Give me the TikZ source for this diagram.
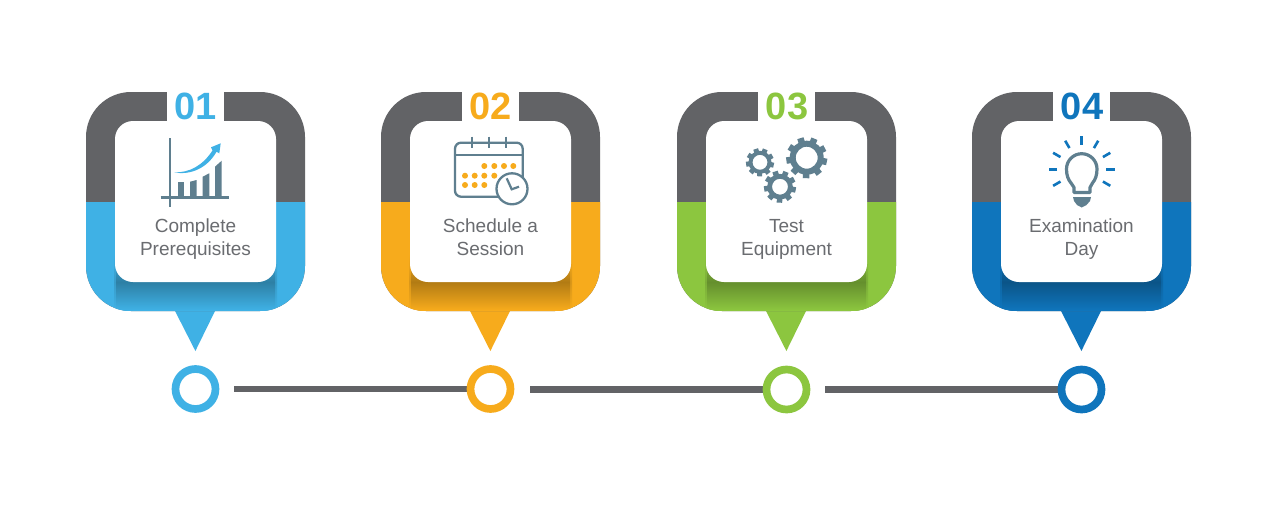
\documentclass[tikz,border=0pt]{standalone}
\usepackage{fontspec}
\setmainfont{Liberation Sans}
\definecolor{P}{HTML}{3FB1E5}
\definecolor{O}{HTML}{F7AB1C}
\definecolor{G}{HTML}{8CC63F}
\definecolor{D}{HTML}{0F75BC}
\definecolor{K}{HTML}{626366}
\definecolor{S}{HTML}{5F7F8F}
\definecolor{L}{HTML}{6A6C70}
\tikzstyle{base}=[x=1pt, y=-1pt, inner sep=0pt, outer sep=0pt]
\tikzstyle{cardbox}=[fill=white, rounded corners=18pt, minimum width=161pt, minimum height=161pt]
\tikzstyle{cardtext}=[text=L, align=center, anchor=north, font=\fontsize{19}{22.5}\selectfont]
\tikzstyle{cardnum}=[font=\fontsize{38}{38}\selectfont\bfseries]
\tikzstyle{ringbox}=[circle, fill=white, line width=7.7pt, minimum size=40pt]
\tikzstyle{railline}=[K, line width=6.5pt]
\newcommand*{\pincard}[5]{
    \begin{scope}[shift={(#2,0)}]
        \fill [#3] (174,309) -- (216,309) -- (195.4,351) -- cycle;
        \fill [K, rounded corners=45pt] (86,92) rectangle (305,311);
        \begin{scope}
            \clip (80,202) rectangle (310,315);
            \fill [#3, rounded corners=45pt] (86,92) rectangle (305,311);
        \end{scope}
        \begin{scope}
            \clip [rounded corners=45pt] (86,92) rectangle (305,311);
            \shade [top color=#3, bottom color=#3, middle color=#3!88!black] (114,254) rectangle (277,310);
            \shade [top color=#3, bottom color=#3, middle color=#3!72!black] (116,254) rectangle (275,310);
        \end{scope}
        \fill [white] (167,88) rectangle (224,125);
        \node [cardbox] (card#1) at (195.5,201.5) {};
        \node [cardnum, text=#3] (num#1) at (196,106.5) {#4};
        \node [cardtext] (label#1) at (195.5,217.2) {\strut #5};
    \end{scope}
}
\newcommand*{\gearicon}[6]{
    \draw [S, line width=#4pt-#3pt] (#1,#2) circle (#3/2+#4/2);
    \foreach \a in {0,40,...,320} {
        \draw [S, line width=#6pt, shift={(#1,#2)}] (\a+12:#4-1) -- (\a+12:#5);
    }
}

\begin{document}
\begin{tikzpicture}[base]
    \useasboundingbox (0,0) rectangle (1280,525);
    \fill [white] (0,0) rectangle (1280,525);
    \pincard{1}{0}{P}{01}{Complete\\Prerequisites}
    \pincard{2}{295}{O}{02}{Schedule a\\Session}
    \pincard{3}{591}{G}{03}{Test\\Equipment}
    \pincard{4}{886}{D}{04}{Examination\\Day}

    \coordinate (rail1) at (234,389);
    \coordinate (rail2) at (530,389.5);
    \coordinate (rail3) at (825,389.5);
    \node [ringbox] (ring1) at (195.5,389) {};
    \node [ringbox] (ring2) at (490.5,389) {};
    \node [ringbox] (ring3) at (786.5,389.5) {};
    \node [ringbox] (ring4) at (1081.5,389.5) {};
    \draw [railline] (rail1) -- (ring2.center);
    \draw [railline] (rail2) -- (ring3.center);
    \draw [railline] (rail3) -- (ring4.center);
    \draw [P, ringbox] (ring1) circle (20);
    \draw [O, ringbox] (ring2) circle (20);
    \draw [G, ringbox] (ring3) circle (20);
    \draw [D, ringbox] (ring4) circle (20);

    \draw [S, line width=2.7pt] (170,138.3) -- (170,207.3);
    \draw [S, line width=2.7pt] (160.7,197.7) -- (229,197.7);
    \fill [S] (177.7,197) -- (177.7,182.3) -- (184.3,182.3) -- (184.3,197) -- cycle;
    \fill [S] (190,197) -- (190,181.7) -- (196.7,180) -- (196.7,197) -- cycle;
    \fill [S] (202.7,197) -- (202.7,176.7) -- (209.3,173.3) -- (209.3,197) -- cycle;
    \fill [S] (215,197) -- (215,166.7) -- (221.7,160.7) -- (221.7,197) -- cycle;
    \fill [P] (174,172.3) .. controls (190,173) and (203,165) .. (212.5,150.5) -- (211,147.3) -- (220.7,143.3) -- (219.3,153.3) -- (216.5,151.8) .. controls (207,168.5) and (190,175.5) .. (174,172.3) -- cycle;

    \draw [S, line width=2.3pt, rounded corners=6pt] (455,142.7) rectangle (522.7,196.7);
    \draw [S, line width=2.3pt] (455,155) -- (522.7,155);
    \draw [S, line width=2.3pt] (471.7,136.7) -- (471.7,148);
    \draw [S, line width=2.3pt] (489,136.7) -- (489,148);
    \draw [S, line width=2.3pt] (505.7,136.7) -- (505.7,148);
    \fill [O] (484.3,166) circle (3);
    \fill [O] (494.3,166) circle (3);
    \fill [O] (504,166) circle (3);
    \fill [O] (513.3,166) circle (3);
    \fill [O] (465,175.7) circle (3);
    \fill [O] (474.7,175.7) circle (3);
    \fill [O] (484.3,175.7) circle (3);
    \fill [O] (494.3,175.7) circle (3);
    \fill [O] (465,185) circle (3);
    \fill [O] (474.7,185) circle (3);
    \fill [O] (484.3,185) circle (3);
    \draw [S, fill=white, line width=2.3pt] (512,188.8) circle (15.5);
    \draw [S, line width=2.2pt] (506.7,178.3) -- (511.7,189.3) -- (519,186.7);

    \gearicon{760}{162.3}{7.5}{11.5}{14}{5}
    \gearicon{806.7}{157.7}{11}{17}{20.5}{6.5}
    \gearicon{780}{186.7}{8}{12.8}{16}{5.5}

    \foreach \a in {-30,0,30,60,90,120,150,180,210} {
        \draw [D, line width=2.6pt, shift={(1081.7,169.3)}] (-\a:24.5) -- (-\a:33);
    }
    \draw [S, line width=3.2pt, fill=white, line join=round] (1074,192.5) -- (1074,187.5) -- (1071,183) .. controls (1068,179.5) and (1066.5,175) .. (1066.5,169) .. controls (1066.5,160.6) and (1073.3,153.7) .. (1081.7,153.7) .. controls (1090.1,153.7) and (1097,160.6) .. (1097,169) .. controls (1097,175) and (1095.5,179.5) .. (1092.5,183) -- (1090,187.5) -- (1090,192.5) -- cycle;
    \fill [S] (1073,197) -- (1091,197) -- (1090,201) -- (1086.5,205) -- (1081.7,207.5) -- (1077,205) -- (1074,201) -- cycle;
\end{tikzpicture}
\end{document}
